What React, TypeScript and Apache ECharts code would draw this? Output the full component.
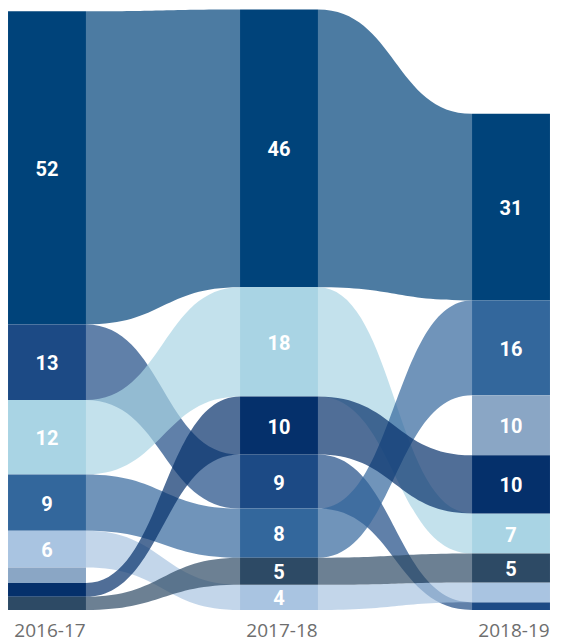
import React, { useEffect, useRef } from "react";
import * as echarts from "echarts";

// Years (columns)
const years = ["2016-17", "2017-18", "2018-19"];
// Categories tracked across years
const categories = ["Group A", "Group B", "Group C", "Group D", "Group E", "Group F", "Group G", "Group H"];
// Share (%) per category and year (0 = absent that year)
const values2016 = [52.2, 12.6, 12.4, 9.4, 6.1, 2.6, 2.3, 2.2];
const values2017 = [46.3, 9.0, 18.2, 8.2, 4.2, 0, 9.7, 4.5];
const values2018 = [31.1, 1.3, 6.7, 15.8, 3.3, 10.0, 9.7, 4.8];

// Palette (one colour per category)
const palette = ["#00437A", "#1C4A85", "#A9D4E4", "#33679C", "#A9C4E1", "#8AA6C5", "#05306B", "#2D4A65"];

const NODE_FRAC = 0.168; // half node width as a fraction of column spacing
const LINK_OPACITY = 0.7;
const LABEL_MIN = 3.5;

function buildLayout() {
  const cols = [values2016, values2017, values2018];
  const pos: ({ b: number; t: number } | null)[][] = cols.map((vals) => {
    const res: ({ b: number; t: number } | null)[] = vals.map(() => null);
    const order = vals
      .map((v, k) => ({ v, k }))
      .filter((d) => d.v > 0)
      .sort((a, b) => b.v - a.v || a.k - b.k);
    let cum = 0;
    for (let i = order.length - 1; i >= 0; i--) {
      const { v, k } = order[i];
      res[k] = { b: cum, t: cum + v };
      cum += v;
    }
    return res;
  });
  const nodeData: number[][] = [];
  cols.forEach((vals, c) => {
    vals.forEach((v, k) => {
      const p = pos[c][k];
      if (p) nodeData.push([c, p.b, p.t, k, v]);
    });
  });
  const linkData: number[][] = [];
  for (let c = 0; c < cols.length - 1; c++) {
    categories.forEach((_, k) => {
      const a = pos[c][k];
      const b = pos[c + 1][k];
      if (a && b) linkData.push([c, a.b, a.t, b.b, b.t, k]);
    });
  }
  return { nodeData, linkData };
}

export default function App() {
  const ref = useRef<HTMLDivElement>(null);
  useEffect(() => {
    if (!ref.current) return;
    const chart = echarts.init(ref.current, null, { renderer: "svg" });
    const { nodeData, linkData } = buildLayout();

    const option: any = {
      animation: false,
      backgroundColor: "#ffffff",
      grid: { left: 47, right: 50, top: 10, bottom: 31, outerBoundsMode: "none" },
      xAxis: {
        type: "category",
        data: years,
        boundaryGap: false,
        axisLine: { show: false },
        axisTick: { show: false },
        splitLine: { show: false },
        axisLabel: {
          fontSize: 19,
          color: "#6e6e6e",
          fontFamily: "Open Sans",
          margin: 10,
          padding: [0, 0, 0, 6],
        },
      },
      yAxis: { type: "value", min: 0, max: 100, show: false },
      series: [
        {
          type: "custom",
          name: "flows",
          silent: true,
          coordinateSystem: "cartesian2d",
          encode: { x: 0, y: [1, 2, 3, 4] },
          data: linkData,
          renderItem: (params: any, api: any) => {
            const c = api.value(0);
            const k = api.value(5);
            const p0b = api.coord([c, api.value(1)]);
            const p0t = api.coord([c, api.value(2)]);
            const p1b = api.coord([c + 1, api.value(3)]);
            const p1t = api.coord([c + 1, api.value(4)]);
            const step = p1b[0] - p0b[0];
            const half = step * NODE_FRAC;
            const x0 = p0b[0] + half;
            const x1 = p1b[0] - half;
            const xm = (x0 + x1) / 2;
            const d =
              `M${x0},${p0t[1]} C${xm},${p0t[1]} ${xm},${p1t[1]} ${x1},${p1t[1]} ` +
              `L${x1},${p1b[1]} C${xm},${p1b[1]} ${xm},${p0b[1]} ${x0},${p0b[1]} Z`;
            return {
              type: "path",
              shape: { pathData: d },
              style: { fill: palette[k], opacity: LINK_OPACITY },
            };
          },
          z: 1,
        },
        {
          type: "custom",
          name: "nodes",
          silent: true,
          coordinateSystem: "cartesian2d",
          encode: { x: 0, y: [1, 2] },
          data: nodeData,
          renderItem: (params: any, api: any) => {
            const c = api.value(0);
            const k = api.value(3);
            const v = api.value(4);
            const pb = api.coord([c, api.value(1)]);
            const pt = api.coord([c, api.value(2)]);
            const step = api.coord([1, 0])[0] - api.coord([0, 0])[0];
            const half = step * NODE_FRAC;
            const children: any[] = [
              {
                type: "rect",
                shape: { x: pb[0] - half, y: pt[1], width: half * 2, height: pb[1] - pt[1] },
                style: { fill: palette[k] },
              },
            ];
            if (v >= LABEL_MIN) {
              children.push({
                type: "text",
                style: {
                  text: String(Math.round(v)),
                  x: pb[0],
                  y: (pb[1] + pt[1]) / 2 + 1,
                  fill: "#ffffff",
                  fontSize: 20,
                  fontWeight: "bold",
                  fontFamily: "Roboto",
                  align: "center",
                  verticalAlign: "middle",
                },
              });
            }
            return { type: "group", children };
          },
          z: 2,
        },
      ],
    };
    chart.setOption(option);
    return () => chart.dispose();
  }, []);

  return (
    <div
      ref={ref}
      style={{ position: "fixed", left: 0, top: 0, width: 561, height: 641, background: "#fff" }}
    />
  );
}
